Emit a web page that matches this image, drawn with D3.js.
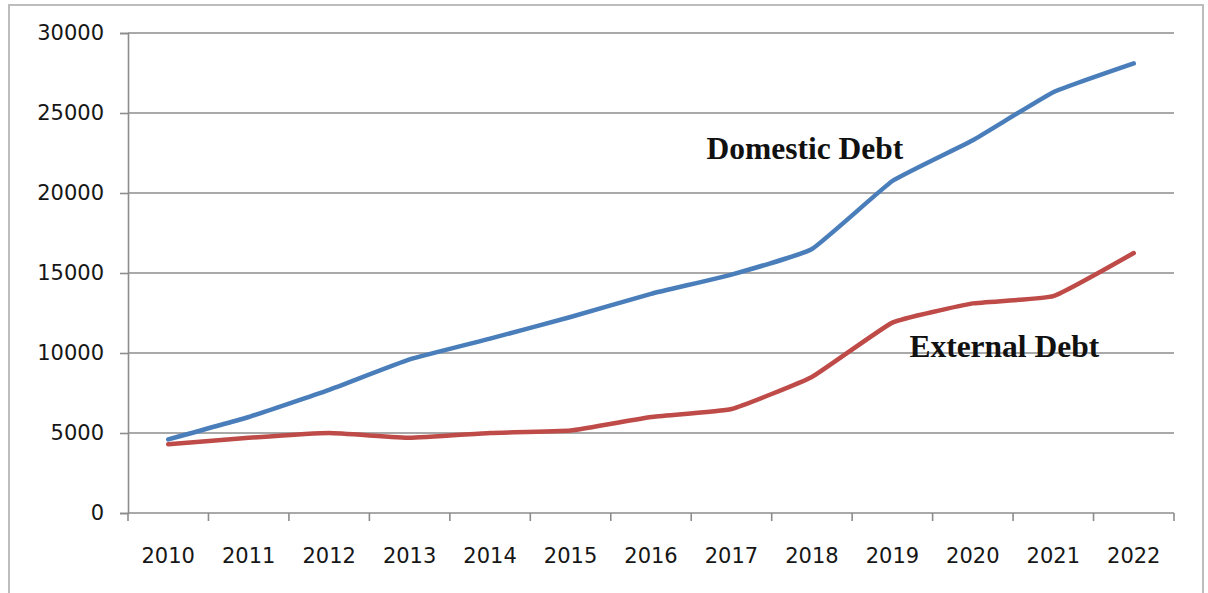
<!DOCTYPE html>
<html lang="en">
<head>
<meta charset="utf-8">
<title>Domestic and External Debt</title>
<script src="https://cdn.jsdelivr.net/npm/d3@7/dist/d3.min.js"></script>
<style>
  body { margin: 0; background: #fff; }
</style>
</head>
<body>
<script>
// data
var years = ["2010", "2011", "2012", "2013", "2014", "2015", "2016",
             "2017", "2018", "2019", "2020", "2021", "2022"];
var domesticDebt = [4600, 6000, 7700, 9600, 10900, 12250, 13700,
                    14900, 16500, 20750, 23300, 26300, 28100];
var externalDebt = [4300, 4700, 5000, 4700, 5000, 5150, 6000,
                    6500, 8500, 11900, 13100, 13550, 16250];
var yTicks = [0, 5000, 10000, 15000, 20000, 25000, 30000];

var seriesList = [
  {name: "Domestic Debt", values: domesticDebt, color: "#4a7ebb"},
  {name: "External Debt", values: externalDebt, color: "#be4b48"}
];

// label anchors (year + value in data units) for the in-chart captions
var captions = [
  {text: "Domestic Debt", year: "2017", value: 22150, dx: -25},
  {text: "External Debt", year: "2019", value: 9750, dx: 17}
];

var W = 1208, H = 593;
var margin = {top: 33, right: 34, bottom: 80, left: 128};
var width = W - margin.left - margin.right;
var height = H - margin.top - margin.bottom;

var svg = d3.select("body").append("svg")
  .attr("width", W)
  .attr("height", H);

// outer frame
svg.append("rect")
  .attr("x", 9).attr("y", 5)
  .attr("width", 1194).attr("height", 600)
  .attr("fill", "none")
  .attr("stroke", "#bdbdbd")
  .attr("stroke-width", 2);

var g = svg.append("g")
  .attr("transform", "translate(" + margin.left + "," + margin.top + ")");

var x = d3.scaleBand().domain(years).range([0, width]);
var y = d3.scaleLinear().domain([0, 30000]).range([height, 0]);

var gridColor = "#8c8c8c";

// horizontal gridlines
g.selectAll(".grid")
  .data(yTicks.filter(function (d) { return d > 0; }))
  .enter().append("line")
  .attr("x1", 0).attr("x2", width)
  .attr("y1", function (d) { return y(d); })
  .attr("y2", function (d) { return y(d); })
  .attr("stroke", gridColor)
  .attr("stroke-width", 1.6);

// y axis
var yAxis = g.append("g")
  .call(d3.axisLeft(y).tickValues(yTicks).tickSize(8).tickPadding(16)
    .tickFormat(d3.format("d")));
yAxis.select(".domain").attr("stroke", gridColor).attr("stroke-width", 1.6);
yAxis.selectAll(".tick line").attr("stroke", gridColor).attr("stroke-width", 1.6);
yAxis.selectAll("text")
  .attr("font-family", "'DejaVu Sans', Verdana, sans-serif")
  .attr("font-size", 21)
  .attr("fill", "#161616");

// x axis line with tick marks between categories
var xAxis = g.append("g").attr("transform", "translate(0," + height + ")");
xAxis.append("line")
  .attr("x1", 0).attr("x2", width)
  .attr("stroke", gridColor).attr("stroke-width", 1.6);
var edges = years.map(function (d) { return x(d); }).concat([width]);
xAxis.selectAll(".xtick")
  .data(edges)
  .enter().append("line")
  .attr("x1", function (d) { return d; })
  .attr("x2", function (d) { return d; })
  .attr("y1", 0).attr("y2", 8)
  .attr("stroke", gridColor).attr("stroke-width", 1.6);
xAxis.selectAll(".xlabel")
  .data(years)
  .enter().append("text")
  .attr("x", function (d) { return x(d) + x.bandwidth() / 2; })
  .attr("y", 50)
  .attr("text-anchor", "middle")
  .attr("font-family", "'DejaVu Sans', Verdana, sans-serif")
  .attr("font-size", 21)
  .attr("fill", "#161616")
  .text(function (d) { return d; });

// lines, lightly smoothed like the spreadsheet original
var line = d3.line()
  .x(function (d, i) { return x(years[i]) + x.bandwidth() / 2; })
  .y(function (d) { return y(d); })
  .curve(d3.curveCardinal.tension(0.65));

g.selectAll(".series")
  .data(seriesList)
  .enter().append("path")
  .attr("d", function (s) { return line(s.values); })
  .attr("fill", "none")
  .attr("stroke", function (s) { return s.color; })
  .attr("stroke-width", 4.5)
  .attr("stroke-linejoin", "round")
  .attr("stroke-linecap", "round");

// captions
g.selectAll(".caption")
  .data(captions)
  .enter().append("text")
  .attr("x", function (c) { return x(c.year) + c.dx + x.bandwidth() / 2; })
  .attr("y", function (c) { return y(c.value); })
  .attr("font-family", "'Liberation Serif', 'Times New Roman', serif")
  .attr("font-weight", "bold")
  .attr("font-size", 31.5)
  .attr("fill", "#111")
  .text(function (c) { return c.text; });
</script>
</body>
</html>
